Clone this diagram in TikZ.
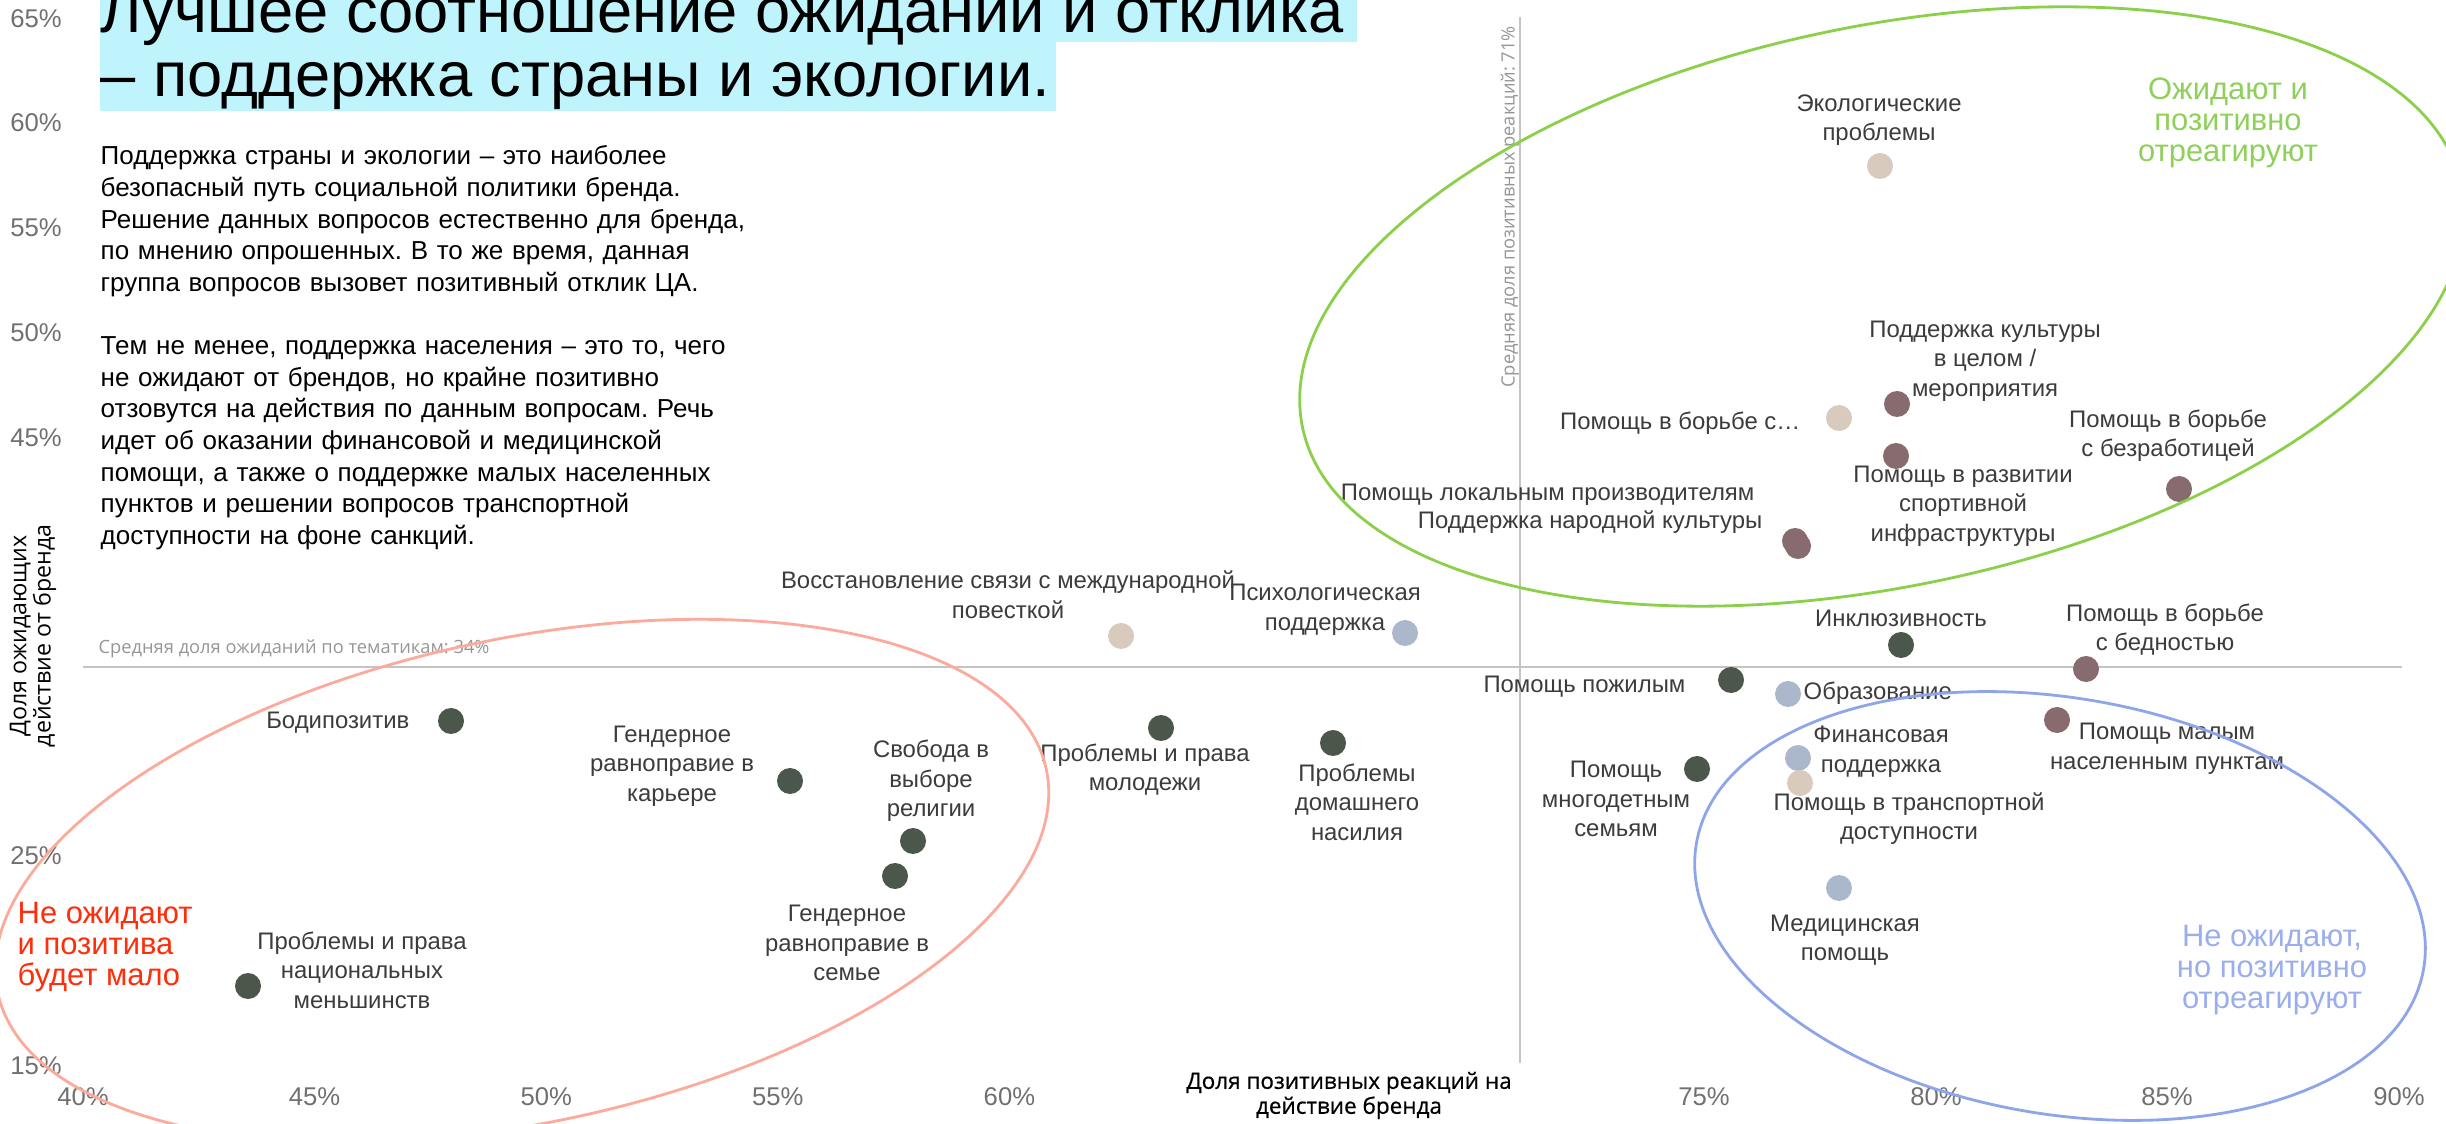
\documentclass[tikz,border=0pt]{standalone}
\usepackage{fontspec}
\setmainfont{Liberation Sans}
\newfontfamily\osfont{Open Sans}
\newfontfamily\ossemi[FakeBold=0.6]{Open Sans}
\usetikzlibrary{shapes.geometric}
\frenchspacing

\definecolor{cDark}{RGB}{74,87,74}
\definecolor{cMauve}{RGB}{135,107,110}
\definecolor{cBeige}{RGB}{216,202,189}
\definecolor{cSteel}{RGB}{171,184,203}
\definecolor{zGreen}{RGB}{140,207,74}
\definecolor{zRed}{RGB}{251,170,156}
\definecolor{zBlue}{RGB}{142,165,232}
\definecolor{qGreen}{RGB}{143,208,90}
\definecolor{qRed}{RGB}{255,45,10}
\definecolor{qBlue}{RGB}{154,174,238}
\definecolor{titlebg}{RGB}{191,244,253}
\definecolor{linegray}{RGB}{196,196,196}
\definecolor{tickgray}{RGB}{112,112,112}
\definecolor{avggray}{RGB}{150,150,150}
\definecolor{lblgray}{RGB}{60,60,60}

\begin{document}
\begin{tikzpicture}[
    dot/.style={circle, fill=#1, minimum size=2.6mm, inner sep=0pt},
    lbl/.style={font=\fontsize{6.8}{8.4}\selectfont, text=lblgray, align=center, inner sep=0pt},
    zone/.style={draw=#1, ellipse, line width=0.8pt, inner sep=0pt},
    quad/.style={font=\fontsize{8.8}{8.7}\selectfont, text=#1, align=center, inner sep=0pt},
    tick/.style={font=\fontsize{7.3}{8}\selectfont, text=tickgray, inner sep=0pt},
    avg/.style={font=\osfont\fontsize{5.2}{6}\selectfont, text=avggray, inner sep=0pt},
    meanline/.style={draw=linegray, line width=0.6pt}
]
    \useasboundingbox (0,0) rectangle (24.46,11.23);
    \clip (0,0) rectangle (24.46,11.23);

    % Title with highlight
    \fill[titlebg] (1.00,10.81) rectangle (13.57,11.40);
    \fill[titlebg] (1.00,10.12) rectangle (10.56,10.81);
    \node[anchor=base west, inner sep=0pt, font=\fontsize{18}{20}\selectfont] (title1) at (1.00,10.90) {Лучшее соотношение ожиданий и отклика};
    \node[anchor=base west, inner sep=0pt, font=\fontsize{18}{20}\selectfont] (title2) at (1.00,10.26) {– поддержка страны и экологии.};

    % Intro text
    \node[anchor=north west, text width=8cm, align=left, inner sep=0pt, font=\fontsize{7.4}{9}\selectfont] (intro) at (1.00,9.78) {Поддержка страны и экологии – это наиболее\\
        безопасный путь социальной политики бренда.\\
        Решение данных вопросов естественно для бренда,\\
        по мнению опрошенных. В то же время, данная\\
        группа вопросов вызовет позитивный отклик ЦА.\\[9pt]
        Тем не менее, поддержка населения – это то, чего\\
        не ожидают от брендов, но крайне позитивно\\
        отзовутся на действия по данным вопросам. Речь\\
        идет об оказании финансовой и медицинской\\
        помощи, а также о поддержке малых населенных\\
        пунктов и решении вопросов транспортной\\
        доступности на фоне санкций.};

    % Axes ticks
    \foreach \v/\y in {65/11.045, 60/10.0, 55/8.95, 50/7.90, 45/6.857, 25/2.669, 15/0.575}
        \node[tick] (y\v) at (0.36,\y) {\v\%};
    \foreach \v/\x in {40/0.83, 45/3.146, 50/5.462, 55/7.778, 60/10.094, 75/17.04, 80/19.36, 85/21.67, 90/23.99}
        \node[tick] (x\v) at (\x,0.26) {\v\%};

    \node[rotate=90, align=center, inner sep=0pt, font=\osfont\fontsize{6.6}{6.9}\selectfont] (ylab) at (0.33,4.87) {Доля ожидающих\\действие от бренда};
    \node[align=center, inner sep=0pt, font=\ossemi\fontsize{6.4}{7.1}\selectfont] (xlab) at (13.49,0.275) {Доля позитивных реакций на\\действие бренда};

    % Mean lines
    \coordinate (hL) at (0.83,4.56);
    \coordinate (hR) at (24.02,4.56);
    \coordinate (vT) at (15.20,11.06);
    \coordinate (vB) at (15.20,0.60);
    \draw[meanline] (hL) -- (hR);
    \draw[meanline] (vT) -- (vB);
    \node[avg, anchor=west] (hAvg) at (0.98,4.74) {Средняя доля ожиданий по тематикам: 34\%};
    \node[avg, rotate=90] (vAvg) at (15.10,9.16) {Средняя доля позитивных реакций: 71\%};

    % Topics
    \node[dot=cBeige] (eco) at (18.80,9.57) {};
    \node[dot=cMauve] (cult) at (18.97,7.19) {};
    \node[dot=cBeige] (fight) at (18.39,7.05) {};
    \node[dot=cMauve] (sport) at (18.96,6.67) {};
    \node[dot=cMauve] (unemp) at (21.79,6.34) {};
    \node[dot=cMauve] (local) at (17.95,5.82) {};
    \node[dot=cMauve] (folk) at (17.98,5.77) {};
    \node[dot=cBeige] (intl) at (11.21,4.87) {};
    \node[dot=cSteel] (psy) at (14.05,4.90) {};
    \node[dot=cDark] (incl) at (19.01,4.78) {};
    \node[dot=cMauve] (pov) at (20.86,4.54) {};
    \node[dot=cDark] (elder) at (17.31,4.43) {};
    \node[dot=cSteel] (edu) at (17.88,4.29) {};
    \node[dot=cMauve] (small) at (20.57,4.03) {};
    \node[dot=cSteel] (fin) at (17.98,3.65) {};
    \node[dot=cBeige] (trans) at (18.00,3.40) {};
    \node[dot=cDark] (large) at (16.97,3.54) {};
    \node[dot=cDark] (dom) at (13.33,3.80) {};
    \node[dot=cSteel] (med) at (18.39,2.35) {};
    \node[dot=cDark] (bodyp) at (4.51,4.02) {};
    \node[dot=cDark] (career) at (7.90,3.42) {};
    \node[dot=cDark] (relig) at (9.13,2.82) {};
    \node[dot=cDark] (youth) at (11.61,3.95) {};
    \node[dot=cDark] (family) at (8.95,2.47) {};
    \node[dot=cDark] (minor) at (2.48,1.37) {};

    % Topic labels
    \node[lbl] (ecoT) at (18.79,10.03) {Экологические\\проблемы};
    \node[lbl] (cultT) at (19.85,7.62) {Поддержка культуры\\в целом /\\мероприятия};
    \node[lbl, anchor=east] (fightT) at (18.01,7.00) {Помощь в борьбе с…};
    \node[lbl] (sportT) at (19.63,6.17) {Помощь в развитии\\спортивной\\инфраструктуры};
    \node[lbl] (unempT) at (21.68,6.875) {Помощь в борьбе\\с безработицей};
    \node[lbl, anchor=east] (localT) at (17.55,6.28) {Помощь локальным производителям};
    \node[lbl, anchor=east] (folkT) at (17.63,6.01) {Поддержка народной культуры};
    \node[lbl] (intlT) at (10.08,5.28) {Восстановление связи с международной\\повесткой};
    \node[lbl] (psyT) at (13.25,5.13) {Психологическая\\поддержка};
    \node[lbl] (inclT) at (19.01,5.05) {Инклюзивность};
    \node[lbl] (povT) at (21.65,4.935) {Помощь в борьбе\\с бедностью};
    \node[lbl, anchor=east] (elderT) at (16.86,4.36) {Помощь пожилым};
    \node[lbl, anchor=west] (eduT) at (18.03,4.30) {Образование};
    \node[lbl] (smallT) at (21.67,3.74) {Помощь малым\\населенным пунктам};
    \node[lbl] (finT) at (18.81,3.715) {Финансовая\\поддержка};
    \node[lbl] (transT) at (19.09,3.045) {Помощь в транспортной\\доступности};
    \node[lbl] (largeT) at (16.16,3.24) {Помощь\\многодетным\\семьям};
    \node[lbl] (domT) at (13.57,3.21) {Проблемы\\домашнего\\насилия};
    \node[lbl] (medT) at (18.45,1.83) {Медицинская\\помощь};
    \node[lbl, anchor=east] (bodypT) at (4.10,4.00) {Бодипозитив};
    \node[lbl] (careerT) at (6.72,3.57) {Гендерное\\равноправие в\\карьере};
    \node[lbl] (religT) at (9.31,3.42) {Свобода в\\выборе\\религии};
    \node[lbl] (youthT) at (11.45,3.535) {Проблемы и права\\молодежи};
    \node[lbl] (familyT) at (8.47,1.80) {Гендерное\\равноправие в\\семье};
    \node[lbl] (minorT) at (3.62,1.53) {Проблемы и права\\национальных\\меньшинств};

    % Quadrant zones
    \node[zone=zGreen, minimum width=11.84cm, minimum height=5.60cm, rotate=11.8] (gZone) at (18.82,8.165) {};
    \node[zone=zRed, minimum width=10.72cm, minimum height=4.84cm, rotate=12] (rZone) at (5.22,2.42) {};
    \node[zone=zBlue, minimum width=7.38cm, minimum height=4.16cm, rotate=-9.8] (bZone) at (20.60,2.17) {};
    \node[quad=qGreen] (gCap) at (22.28,10.00) {Ожидают и\\позитивно\\отреагируют};
    \node[quad=qBlue] (bCap) at (22.72,1.53) {Не ожидают,\\но позитивно\\отреагируют};
    \node[quad=qRed, anchor=west, align=left] (rCap) at (0.17,1.76) {Не ожидают\\и позитива\\будет мало};

\end{tikzpicture}
\end{document}
